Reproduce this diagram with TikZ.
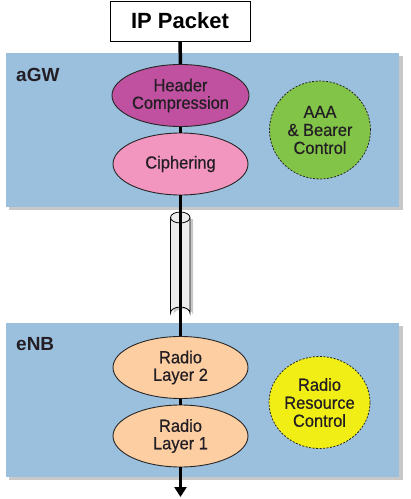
\documentclass[tikz,border=0pt]{standalone}
\usepackage{fontspec}
\setmainfont{Liberation Sans}
\newfontfamily\condfont[FakeStretch=0.94,FakeBold=0.5]{Liberation Sans}
\usetikzlibrary{shapes.geometric,arrows.meta}
\definecolor{boxblue}{RGB}{155,192,222}
\definecolor{shadowgray}{RGB}{200,200,200}
\definecolor{hcol}{RGB}{192,80,160}
\definecolor{ccol}{RGB}{242,150,192}
\definecolor{gcol}{RGB}{130,196,72}
\definecolor{ycol}{RGB}{240,238,20}
\definecolor{pcol}{RGB}{252,206,162}
\definecolor{tubegray}{RGB}{236,236,236}
\definecolor{txt}{RGB}{35,30,35}
\tikzset{
  layerell/.style={ellipse,draw=black!85,line width=0.9pt,minimum width=135pt,minimum height=62pt,inner sep=0pt,
    text=txt,align=center,font=\condfont\fontsize{17.5}{17.5}\selectfont},
  ctrlell/.style={ellipse,draw=black!85,dashed,dash pattern=on 2pt off 1.5pt,line width=0.8pt,inner sep=0pt,
    text=txt,align=center,font=\condfont\fontsize{17.5}{18}\selectfont},
  grouplabel/.style={anchor=west,inner sep=0pt,text=txt,font=\bfseries\fontsize{19}{22}\selectfont},
  flow/.style={line width=3.5pt,black}
}
\begin{document}
\begin{tikzpicture}[x=1pt,y=-1pt]
\useasboundingbox (0,0) rectangle (411,499);
% group boxes with shadows
\fill[shadowgray] (9,56) rectangle (403,210);
\fill[boxblue] (6,53) rectangle (399,207);
\fill[shadowgray] (9,326) rectangle (403,480);
\fill[boxblue] (6,323) rectangle (399,477);
\node[grouplabel] (agwlbl) at (16,75) {aGW};
\node[grouplabel] (enblbl) at (16,344) {eNB};
% tube
\fill[shadowgray] (173.5,219) -- (173.5,315) arc[start angle=180,end angle=360,x radius=9.75,y radius=6] -- (193,219) -- cycle;
\filldraw[fill=tubegray,draw=black,line width=0.8pt] (170.5,217.5) -- (170.5,313) arc[start angle=180,end angle=0,x radius=9.75,y radius=-6] -- (190,217.5);
\draw[fill=tubegray,line width=0.8pt] (180.25,217.5) ellipse[x radius=9.75,y radius=5.5];
% nodes
\node[draw=black,line width=0.9pt,fill=white,minimum width=140pt,minimum height=40pt,inner sep=0pt,
  font=\bfseries\fontsize{22}{24}\selectfont] (ip) at (180,21) {IP Packet};
\node[layerell,fill=hcol] (hc) at (180.5,95.5) {Header\\Compression};
\node[layerell,fill=ccol] (ci) at (180.5,164) {Ciphering};
\node[ctrlell,fill=gcol,minimum width=101pt,minimum height=98pt] (aaa) at (320,130) {AAA\\\& Bearer\\Control};
\node[layerell,fill=pcol] (r2) at (180.5,367.5) {Radio\\Layer 2};
\node[layerell,fill=pcol] (r1) at (180.5,436) {Radio\\Layer 1};
\node[ctrlell,fill=ycol,minimum width=101pt,minimum height=92pt] (rrc) at (319.5,402.5) {Radio\\Resource\\Control};
\coordinate (out) at (180.5,497);
% connectors
\draw[flow] (ip.south) -- (hc.north);
\draw[flow] (hc.south) -- (ci.north);
\draw[flow] (ci.south) -- (r2.north);
\draw[flow] (r2.south) -- (r1.north);
\draw[flow,-{Triangle[width=12pt,length=10pt]}] (r1.south) -- (out);
\end{tikzpicture}
\end{document}
